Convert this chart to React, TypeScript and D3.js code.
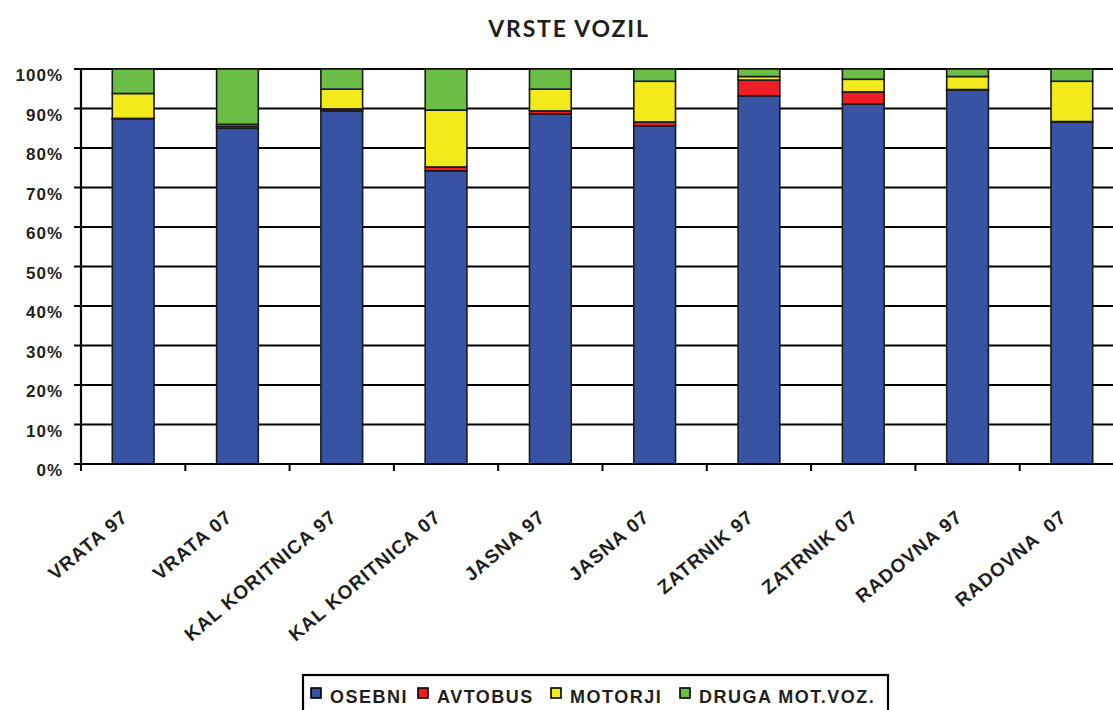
import { scaleBand, scaleLinear, stack } from 'd3'

const categories = ['VRATA 97', 'VRATA 07', 'KAL KORITNICA 97', 'KAL KORITNICA 07', 'JASNA 97', 'JASNA 07', 'ZATRNIK 97', 'ZATRNIK 07', 'RADOVNA 97', 'RADOVNA  07']
const seriesNames = ['OSEBNI', 'AVTOBUS', 'MOTORJI', 'DRUGA MOT.VOZ.']
const osebni = [87.4, 85.0, 89.4, 74.2, 88.6, 85.6, 93.2, 91.1, 94.7, 86.6]
const avtobus = [0.1, 0.5, 0.5, 1.0, 0.8, 1.0, 4.0, 3.1, 0.1, 0.1]
const motorji = [6.3, 0.5, 5.0, 14.4, 5.5, 10.3, 0.9, 3.2, 3.3, 10.2]
const druga = [6.2, 14.0, 5.1, 10.4, 5.1, 3.1, 1.9, 2.6, 1.9, 3.1]
const yTicks = [0, 10, 20, 30, 40, 50, 60, 70, 80, 90, 100]
const colors = ['#3953a4', '#ee1c24', '#f2ea1a', '#6abd45']

const width = 1113
const height = 710
const margin = { top: 69, left: 81, bottom: 246 }
const bandStep = 104.3

function App() {
  const rows = categories.map((c, i) => ({
    cat: c,
    OSEBNI: osebni[i],
    AVTOBUS: avtobus[i],
    MOTORJI: motorji[i],
    'DRUGA MOT.VOZ.': druga[i],
  }))
  const series = stack<any>().keys(seriesNames)(rows)

  const xScale = scaleBand()
    .domain(categories)
    .range([margin.left, margin.left + bandStep * categories.length])
    .paddingInner(0.6)
    .paddingOuter(0.3)
  const yScale = scaleLinear()
    .domain([0, 100])
    .range([height - margin.bottom, margin.top])

  const plotRight = margin.left + bandStep * categories.length
  const y0 = yScale(0)

  const legendX = [311, 418, 551, 680]
  const legendFont = 'Liberation Sans, Arial, sans-serif'

  return (
    <svg width={width} height={height} style={{ position: 'absolute', left: 0, top: 0, background: '#fff' }}>
      <text x={569} y={37} textAnchor="middle" fontFamily="Lato, sans-serif" fontWeight="bold" fontSize={23} letterSpacing={1.8} fill="#231f20">
        VRSTE VOZIL
      </text>

      {yTicks.map(t => (
        <g key={t}>
          <line x1={margin.left - 7} x2={plotRight} y1={yScale(t)} y2={yScale(t)} stroke="#000" strokeWidth={2.2} />
          <text x={63} y={yScale(t) + 12} textAnchor="end" fontFamily={legendFont} fontWeight="bold" fontSize={17} letterSpacing={1} fill="#231f20">
            {t}%
          </text>
        </g>
      ))}

      {series.map((s, si) => (
        <g key={s.key}>
          {s.map((d: any, i: number) => (
            <rect
              key={i}
              x={xScale(categories[i])}
              y={yScale(d[1])}
              width={xScale.bandwidth()}
              height={yScale(d[0]) - yScale(d[1])}
              fill={colors[si]}
              stroke="#1a1a1a"
              strokeWidth={1.6}
            />
          ))}
        </g>
      ))}

      <line x1={margin.left} x2={margin.left} y1={margin.top} y2={y0} stroke="#000" strokeWidth={2.2} />
      <line x1={margin.left} x2={plotRight} y1={y0} y2={y0} stroke="#000" strokeWidth={2.2} />
      {categories.map((c, i) => (
        <line key={c} x1={margin.left + bandStep * i} x2={margin.left + bandStep * i} y1={y0} y2={y0 + 7} stroke="#000" strokeWidth={2} />
      ))}

      {categories.map(c => {
        const cx = (xScale(c) ?? 0) + xScale.bandwidth() / 2 - 4
        const cy = 519
        return (
          <text key={c} x={cx} y={cy} transform={`rotate(-40, ${cx}, ${cy})`} textAnchor="end" fontFamily={legendFont} fontWeight="bold" fontSize={19} letterSpacing={1} fill="#231f20" style={{ whiteSpace: 'pre' }}>
            {c}
          </text>
        )
      })}

      <rect x={303} y={675} width={585} height={45} fill="none" stroke="#000" strokeWidth={2.2} />
      {seriesNames.map((n, i) => (
        <g key={n}>
          <rect x={legendX[i]} y={688} width={10} height={10} fill={colors[i]} stroke="#000" strokeWidth={1.6} />
          <text x={legendX[i] + 19} y={703} fontFamily={legendFont} fontWeight="bold" fontSize={18} letterSpacing={1.5} fill="#231f20">
            {n}
          </text>
        </g>
      ))}
    </svg>
  )
}

export default App
